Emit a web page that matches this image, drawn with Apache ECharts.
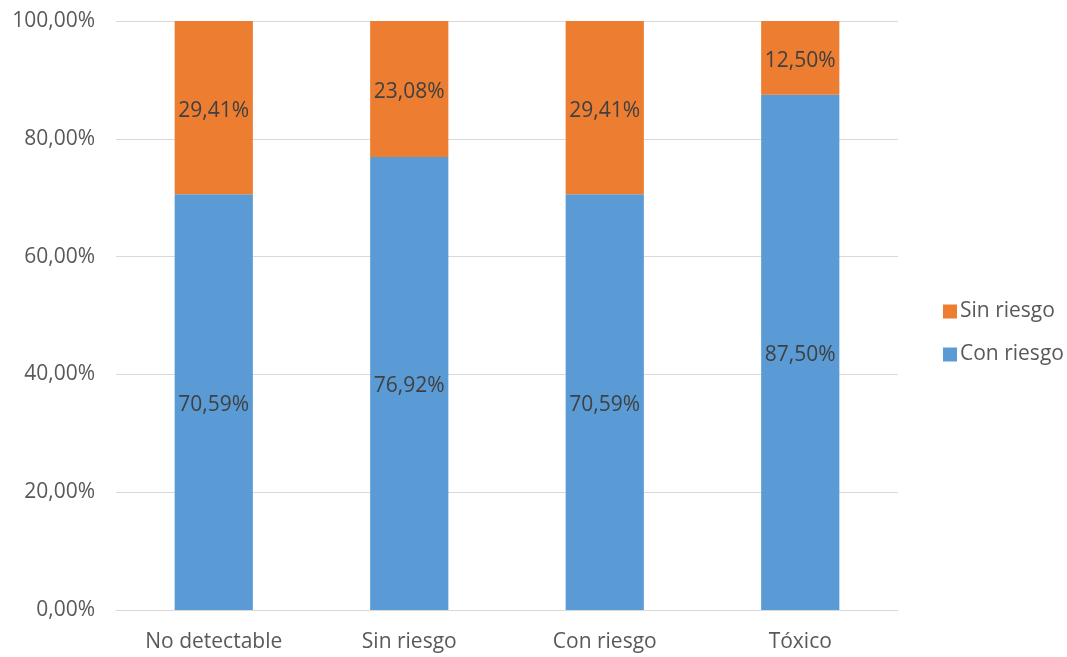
<!DOCTYPE html>
<html>
<head>
<meta charset="utf-8">
<script src="https://cdn.jsdelivr.net/npm/echarts@6/dist/echarts.min.js"></script>
<style>
  html, body { margin: 0; padding: 0; background: #fff; }
  #chart { width: 1067px; height: 657px; }
</style>
</head>
<body>
<div id="chart"></div>
<script>
// categorías y porcentajes
const categories = ['No detectable', 'Sin riesgo', 'Con riesgo', 'Tóxico']
const conRiesgo = [70.59, 76.92, 70.59, 87.5]
const sinRiesgo = [29.41, 23.08, 29.41, 12.5]
const yTicks = [0, 20, 40, 60, 80, 100]

const fmt = (v) => v.toFixed(2).replace('.', ',') + '%'
const font = '"Open Sans", sans-serif'

const chart = echarts.init(document.getElementById('chart'))
chart.setOption({
  animation: false,
  textStyle: { fontFamily: font },
  grid: { left: 116, right: 169, top: 21, bottom: 47 },
  legend: {
    orient: 'vertical',
    left: 938,
    top: 296,
    itemWidth: 14,
    itemHeight: 14,
    itemGap: 22,
    icon: 'rect',
    data: ['Sin riesgo', 'Con riesgo'],
    textStyle: { color: '#595959', fontSize: 21, fontFamily: font, padding: [0, 0, 0, -2] }
  },
  xAxis: {
    type: 'category',
    data: categories,
    axisTick: { show: false },
    axisLine: { lineStyle: { color: '#d9d9d9', width: 1 } },
    axisLabel: { color: '#595959', fontSize: 21, margin: 22, fontFamily: font }
  },
  yAxis: {
    type: 'value',
    min: yTicks[0],
    max: yTicks[yTicks.length - 1],
    interval: 20,
    axisLine: { show: false },
    axisTick: { show: false },
    splitLine: { lineStyle: { color: '#d9d9d9', width: 1 } },
    axisLabel: { color: '#595959', fontSize: 21, margin: 21, fontFamily: font, formatter: fmt }
  },
  series: [
    {
      name: 'Con riesgo',
      type: 'bar',
      stack: 'total',
      barWidth: '40%',
      itemStyle: { color: '#5b9bd5' },
      label: { show: true, position: 'inside', offset: [0, 3], color: '#404040', fontSize: 21, fontFamily: font, formatter: (p) => fmt(p.value) },
      data: conRiesgo
    },
    {
      name: 'Sin riesgo',
      type: 'bar',
      stack: 'total',
      barWidth: '40%',
      itemStyle: { color: '#ed7d31' },
      label: { show: true, position: 'inside', offset: [0, 3], color: '#404040', fontSize: 21, fontFamily: font, formatter: (p) => fmt(p.value) },
      data: sinRiesgo
    }
  ]
})
</script>
</body>
</html>
